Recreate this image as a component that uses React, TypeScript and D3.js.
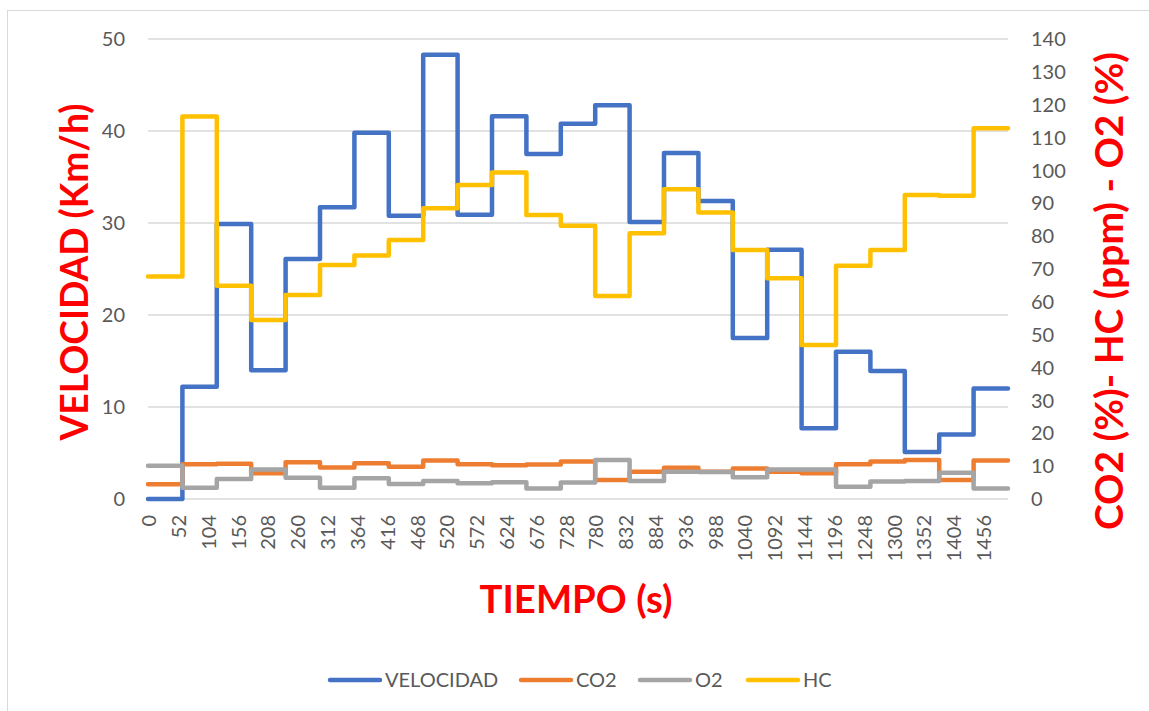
import React, { useEffect, useRef } from 'react';
import * as d3 from 'd3';

// segment start times (s), one reading per 60 s
const tiempos = [0, 60, 120, 180, 240, 300, 360, 420, 480, 540, 600, 660, 720, 780, 840, 900, 960, 1020, 1080, 1140, 1200, 1260, 1320, 1380, 1440];
const tiempoFinal = 1500;

const velocidad = [0, 12.2, 29.9, 14.0, 26.1, 31.7, 39.8, 30.8, 48.3, 30.9, 41.6, 37.5, 40.8, 42.8, 30.1, 37.6, 32.4, 17.5, 27.1, 7.7, 16.0, 13.9, 5.1, 7.0, 12.0];
const co2 = [4.5, 10.6, 10.7, 7.8, 11.2, 9.6, 10.9, 9.8, 11.7, 10.6, 10.3, 10.5, 11.4, 5.8, 8.3, 9.5, 8.3, 9.3, 8.3, 7.8, 10.6, 11.4, 11.9, 5.8, 11.7];
const o2 = [10.1, 3.4, 6.1, 9.0, 6.5, 3.4, 6.3, 4.6, 5.5, 4.8, 5.1, 3.2, 5.0, 11.9, 5.5, 8.3, 8.2, 6.6, 9.0, 9.0, 3.7, 5.3, 5.5, 8.0, 3.2];
const hc = [67.7, 116.4, 64.9, 54.5, 62.1, 71.2, 74.1, 78.8, 88.5, 95.6, 99.4, 86.4, 83.2, 61.8, 80.9, 94.3, 87.2, 75.8, 67.2, 46.9, 71.0, 75.8, 92.5, 92.3, 112.8];

const xTicks = [0, 52, 104, 156, 208, 260, 312, 364, 416, 468, 520, 572, 624, 676, 728, 780, 832, 884, 936, 988, 1040, 1092, 1144, 1196, 1248, 1300, 1352, 1404, 1456];
const leftTicks = [0, 10, 20, 30, 40, 50];
const rightTicks = [0, 10, 20, 30, 40, 50, 60, 70, 80, 90, 100, 110, 120, 130, 140];

const series = [
  { name: 'VELOCIDAD', values: velocidad, color: '#4472C4', axis: 'left' },
  { name: 'CO2', values: co2, color: '#ED7D31', axis: 'right' },
  { name: 'O2', values: o2, color: '#A5A5A5', axis: 'right' },
  { name: 'HC', values: hc, color: '#FFC000', axis: 'right' },
];

const FONT = 'Lato, "Open Sans", sans-serif';

const App: React.FC = () => {
  const ref = useRef<SVGSVGElement>(null);

  useEffect(() => {
    if (!ref.current) return;
    const svg = d3.select(ref.current);
    svg.selectAll('*').remove();

    const left = 148, right = 1008, top = 39, bottom = 499;

    const x = d3.scaleLinear().domain([0, tiempoFinal]).range([left, right]);
    const yL = d3.scaleLinear().domain([0, 50]).range([bottom, top]);
    const yR = d3.scaleLinear().domain([0, 140]).range([bottom, top]);

    // chart frame
    svg.append('rect')
      .attr('x', 7.5).attr('y', 10.5)
      .attr('width', 1160).attr('height', 720)
      .attr('fill', 'white')
      .attr('stroke', '#d9d9d9');

    // gridlines
    svg.append('g')
      .selectAll('line')
      .data(leftTicks)
      .join('line')
      .attr('x1', left).attr('x2', right)
      .attr('y1', d => yL(d)).attr('y2', d => yL(d))
      .attr('stroke', '#d9d9d9')
      .attr('stroke-width', 1.3);

    // left ticks
    svg.append('g')
      .selectAll('text')
      .data(leftTicks)
      .join('text')
      .attr('x', 125)
      .attr('y', d => yL(d))
      .attr('dy', '0.36em')
      .attr('text-anchor', 'end')
      .attr('font-family', FONT)
      .attr('font-size', 20)
      .attr('fill', '#595959')
      .text(d => d);

    // right ticks
    svg.append('g')
      .selectAll('text')
      .data(rightTicks)
      .join('text')
      .attr('x', 1031)
      .attr('y', d => yR(d))
      .attr('dy', '0.36em')
      .attr('font-family', FONT)
      .attr('font-size', 20)
      .attr('fill', '#595959')
      .text(d => d);

    // x ticks (rotated)
    svg.append('g')
      .selectAll('text')
      .data(xTicks)
      .join('text')
      .attr('transform', d => `translate(${x(d) + 1},515) rotate(-90)`)
      .attr('dy', '0.36em')
      .attr('text-anchor', 'end')
      .attr('font-family', FONT)
      .attr('font-size', 20)
      .attr('fill', '#595959')
      .text(d => d);

    // lines
    series.forEach(s => {
      const y = s.axis === 'left' ? yL : yR;
      const pts: [number, number][] = tiempos.map((t, i) => [t, s.values[i]]);
      pts.push([tiempoFinal, s.values[s.values.length - 1]]);
      const line = d3.line<[number, number]>()
        .x(d => x(d[0]))
        .y(d => y(d[1]))
        .curve(d3.curveStepAfter);
      svg.append('path')
        .datum(pts)
        .attr('fill', 'none')
        .attr('stroke', s.color)
        .attr('stroke-width', 4.5)
        .attr('stroke-linejoin', 'round')
        .attr('stroke-linecap', 'round')
        .attr('d', line);
    });

    // axis titles
    svg.append('text')
      .attr('x', 576).attr('y', 613)
      .attr('text-anchor', 'middle')
      .attr('font-family', FONT)
      .attr('font-weight', 'bold')
      .attr('font-size', 39)
      .attr('fill', '#FF0000')
      .attr('textLength', 193)
      .attr('lengthAdjust', 'spacingAndGlyphs')
      .text('TIEMPO (s)');

    svg.append('text')
      .attr('transform', 'translate(88,272) rotate(-90)')
      .attr('text-anchor', 'middle')
      .attr('font-family', FONT)
      .attr('font-weight', 'bold')
      .attr('font-size', 39)
      .attr('fill', '#FF0000')
      .attr('textLength', 337)
      .attr('lengthAdjust', 'spacingAndGlyphs')
      .text('VELOCIDAD (Km/h)');

    svg.append('text')
      .attr('transform', 'translate(1123,291) rotate(-90)')
      .attr('text-anchor', 'middle')
      .attr('font-family', FONT)
      .attr('font-weight', 'bold')
      .attr('font-size', 39)
      .attr('fill', '#FF0000')
      .attr('textLength', 478)
      .attr('lengthAdjust', 'spacingAndGlyphs')
      .text('CO2 (%)- HC (ppm) - O2 (%)');

    // legend
    const legendX = [328, 519, 638, 746];
    const legend = svg.append('g');
    series.forEach((s, i) => {
      const lx = legendX[i];
      legend.append('line')
        .attr('x1', lx + 2).attr('x2', lx + 52)
        .attr('y1', 680).attr('y2', 680)
        .attr('stroke', s.color)
        .attr('stroke-width', 4.5)
        .attr('stroke-linecap', 'round');
      legend.append('text')
        .attr('x', lx + 57).attr('y', 680)
        .attr('dy', '0.36em')
        .attr('font-family', FONT)
        .attr('font-size', 20)
        .attr('fill', '#595959')
        .text(s.name);
    });
  }, []);

  return (
    <svg ref={ref} width={1149} height={711} style={{ position: 'absolute', left: 0, top: 0, display: 'block' }} />
  );
};

export default App;
